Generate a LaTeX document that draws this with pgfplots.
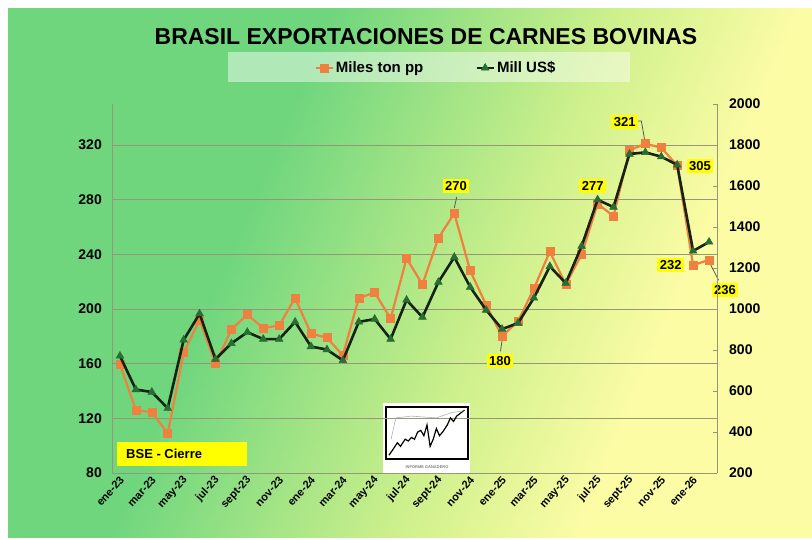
\documentclass[border=0pt]{standalone}
\usepackage{pgfplots}
\usepackage{pgfplotstable}
\pgfplotsset{compat=1.18}
\usepackage{fontspec}
\setmainfont{Liberation Sans}
\definecolor{bggreen}{RGB}{112,214,126}
\definecolor{bgmid}{RGB}{205,240,140}
\definecolor{bgyellow}{RGB}{252,252,165}
\definecolor{orangeS}{RGB}{240,128,64}
\definecolor{greenM}{RGB}{40,110,50}
\definecolor{lineK}{RGB}{20,35,20}
\definecolor{gridc}{RGB}{150,150,120}
\definecolor{labely}{RGB}{255,255,0}
\pgfdeclarehorizontalshading{bgshade}{100bp}{color(0bp)=(bggreen); color(38bp)=(bggreen); color(56bp)=(bgmid); color(68bp)=(bgyellow); color(100bp)=(bgyellow)}

\pgfplotstableread{
x ton usd
0 159.5 771
1 126 607
2 124.5 595
3 109 516
4 168 849
5 192 977
6 160 755
7 185 832
8 196 887
9 186 853
10 188 853
11 208 937
12 182 817
13 179 802
14 166 749
15 208 937
16 212 951
17 193 853
18 237 1044
19 218 960
20 252 1131
21 270 1253
22 228 1107
23 203 995
24 180 902
25 191 931
26 215 1054
27 242 1208
28 218 1126
29 240 1307
30 277 1533
31 268 1497
32 316 1756
33 321 1764
34 318 1743
35 305 1703
36 232 1283
37 236 1327
}\datatab

\pgfplotsset{
  basestyle/.style={
    at={(112pt,66pt)}, anchor=south west,
    scale only axis, width=605pt, height=369pt,
    xmin=-0.5, xmax=37.5,
    /pgf/number format/assume math mode=true,
    /pgf/number format/1000 sep={},
    ticklabel style={font=\fontsize{14}{16}\selectfont\bfseries},
    axis line style={gridc, line width=1pt},
    tick style={gridc, line width=0.8pt},
  }
}

\begin{document}
\begin{tikzpicture}
\path[use as bounding box, fill=white] (0,0) rectangle (812pt,539pt);
\shade[shading=bgshade, shading angle=-23] (8pt,2pt) rectangle (812pt,530pt);
\fill[white, opacity=0.45] (228pt,457pt) rectangle (630pt,487pt);
\node[font=\fontsize{23}{26}\selectfont\bfseries] at (426pt,502pt) {BRASIL EXPORTACIONES DE CARNES BOVINAS};

% inset logo background
\fill[white] (383pt,65pt) rectangle (470pt,136pt);
\draw[black, line width=1.8pt] (386pt,80pt) rectangle (468pt,132pt);
\node[font=\fontsize{4}{5}\selectfont\bfseries, text=gray] at (427pt,72pt) {INFORME GANADERO};

% BSE box
\fill[labely] (117pt,73pt) rectangle (247pt,97pt);
\node[anchor=west, font=\fontsize{13}{15}\selectfont\bfseries, inner sep=0pt] at (126pt,85pt) {BSE - Cierre};

\begin{axis}[basestyle,
  ymin=80, ymax=350,
  ytick={80,120,...,320},
  xtick={0,2,...,36},
  xticklabels={ene-23,mar-23,may-23,jul-23,sept-23,nov-23,ene-24,mar-24,may-24,jul-24,sept-24,nov-24,ene-25,mar-25,may-25,jul-25,sept-25,nov-25,ene-26},
  x tick label style={font=\fontsize{11}{13}\selectfont\bfseries},
  xticklabel style={yshift=-5pt, xshift=2pt, rotate=48, anchor=east, inner sep=0pt},
  major x tick style={draw=none},
  extra x ticks={-0.5,1.5,...,37.5},
  extra x tick labels={},
  extra x tick style={tick align=inside, major tick length=4pt, grid=none},
  yticklabel style={inner sep=0pt, xshift=-10pt},
  major y tick style={draw=none},
  axis x line*=bottom, axis y line*=left,
  ymajorgrids, grid style={gridc, line width=1pt},
  clip=false,
  legend style={at={(0.5355,1.0976)}, anchor=center, draw=none, fill=none,
    legend columns=2, font=\fontsize{15}{17}\selectfont\bfseries,
    /tikz/every even column/.append style={column sep=50pt}},
]
\addplot[orangeS, line width=2.2pt, mark=square*, mark size=4pt,
  mark options={fill=orangeS, draw=orangeS, line width=0.5pt}] table[x=x,y=ton] {\datatab};
\addlegendentry{Miles ton pp}
\addlegendimage{lineK, line width=2.6pt, mark=triangle*, mark size=4.5pt,
  mark options={fill=greenM, draw=greenM, line width=0.5pt}}
\addlegendentry{Mill US\$}

\tikzset{lab/.style={fill=labely, font=\fontsize{13}{15}\selectfont\bfseries, inner sep=2.5pt}}
\draw[gray!70!black, line width=0.8pt] (axis cs:21.15,282) -- (axis cs:21,274);
\node[lab] at (axis cs:21.1,290) {270};
\draw[gray!70!black, line width=0.8pt] (axis cs:23.9,169) -- (axis cs:24,177);
\node[lab] at (axis cs:23.87,162) {180};
\node[lab] at (axis cs:29.7,290) {277};
\draw[gray!70!black, line width=0.8pt] (axis cs:32.5,337.5) -- (axis cs:32.75,337.5) -- (axis cs:32.95,324);
\node[lab] at (axis cs:31.7,336.8) {321};
\node[lab] at (axis cs:36.43,304.6) {305};
\node[lab] at (axis cs:34.6,232.2) {232};
\draw[gray!70!black, line width=0.8pt] (axis cs:37.6,221) -- (axis cs:37.05,233.5);
\node[lab] at (axis cs:38.0,213.9) {236};
\end{axis}

\begin{axis}[basestyle,
  ymin=200, ymax=2000,
  ytick={200,400,...,2000},
  axis y line*=right, axis x line=none,
  xtick=\empty,
  yticklabel style={inner sep=0pt, xshift=12pt, anchor=west},
  ytick align=inside, major tick length=4pt,
]
\addplot[lineK, line width=2.6pt, mark=triangle*, mark size=4.5pt,
  mark options={fill=greenM, draw=greenM, line width=0.5pt}] table[x=x,y=usd] {\datatab};
\end{axis}

% inset logo zigzag
\begin{axis}[at={(388pt,82pt)}, anchor=south west, scale only axis, width=78pt, height=48pt,
  hide axis, xmin=45, xmax=295, ymin=-170, ymax=-35]
\addplot[black, line width=1.2pt] coordinates {(48,-165) (60,-150) (75,-130) (85,-140) (100,-120) (110,-125) (120,-115) (130,-120) (140,-100) (150,-95) (160,-110) (170,-80) (180,-140) (190,-120) (200,-90) (210,-110) (220,-100) (235,-80) (245,-60) (255,-70) (265,-55) (280,-45) (290,-38)};
\addplot[gray!60, line width=0.6pt] coordinates {(55,-120) (70,-60) (120,-55) (200,-60) (250,-45) (290,-40)};
\end{axis}
\end{tikzpicture}
\end{document}
